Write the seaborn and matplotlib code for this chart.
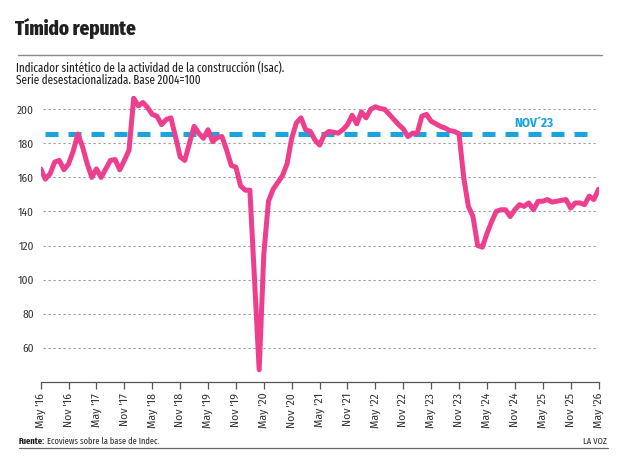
import matplotlib
matplotlib.use("Agg")
import matplotlib.pyplot as plt
import seaborn as sns
import pandas as pd
import numpy as np

# ---- data (monthly, May 2016 .. May 2026) ----
values = [
    165, 159, 162, 169, 170, 164.5, 168, 175.5, 185.5, 178,   # May16-Feb17
    168, 160, 165, 160, 165, 170, 170.5, 164.5, 170, 176,     # Mar17-Dec17
    206.5, 202, 204, 201, 197, 196, 191, 194, 195, 184,       # Jan18-Oct18
    172, 170, 180, 190, 186, 183, 188, 181, 183.5, 184,       # Nov18-Aug19
    176, 167, 166, 155, 152.5, 152.5, 100, 47, 115, 146,      # Sep19-Jun20
    153, 157, 161, 168, 183, 192, 195, 188, 187, 182,         # Jul20-Apr21
    179, 185, 187, 186.5, 186, 188, 191, 196.5, 191.5, 198.5, # May21-Feb22
    195, 200, 201.5, 200.5, 200, 197, 194, 191, 188.5, 184,   # Mar22-Dec22
    186, 186, 196, 197, 193, 191.5, 190, 189, 187.5, 187,     # Jan23-Oct23
    185.6, 160, 143, 137, 120, 119, 127, 134, 140, 141,       # Nov23-Aug24
    141, 137, 141, 144, 143, 145, 141, 146, 146, 147,         # Sep24-Jun25
    145.5, 146, 146.5, 147, 142, 145, 145, 144, 149, 147,     # Jul25-Apr26
    153,                                                      # May26
]
tick_labels = ["May '16", "Nov '16", "May '17", "Nov '17", "May '18", "Nov '18",
               "May '19", "Nov '19", "May '20", "Nov '20", "May '21", "Nov '21",
               "May '22", "Nov '22", "May '23", "Nov '23", "May '24", "Nov '24",
               "May '25", "Nov '25", "May '26"]
y_ticks = [60, 80, 100, 120, 140, 160, 180, 200]
ref_value = 185.6
ref_label = "NOV´23"

title = "Tímido repunte"
subtitle = "Indicador sintético de la actividad de la construcción (Isac).\nSerie desestacionalizada. Base 2004=100"
source_bold = "Fuente:"
source_rest = "Ecoviews sobre la base de Indec."
brand = "LA VOZ"

df = pd.DataFrame({"month": np.arange(len(values)), "value": values})

sns.set_theme(style="white")
COND = ["Fira Sans Condensed", "Roboto Condensed", "DejaVu Sans"]
XCOND = ["Fira Sans Extra Condensed", "Fira Sans Condensed", "DejaVu Sans"]
plt.rcParams["font.family"] = COND

PINK = "#EE3E8E"
BLUE = "#1AA3DD"
DARK = "#231F20"
GRAY = "#333333"

fig = plt.figure(figsize=(6.32, 4.68), dpi=100)
ax = fig.add_axes([40.7 / 632, 1 - 381.7 / 468, 557.8 / 632, 286 / 468])

ax.set_xlim(0, 120)
ax.set_ylim(40, 208)

# gridlines
for yv in y_ticks:
    ax.plot([0.5, 119.5], [yv, yv], color="#9a9a9a", lw=0.8, ls=(0, (2, 2.5)), zorder=1)

# reference dashed line
ax.plot([0.9, 118.2], [ref_value, ref_value], color=BLUE, lw=3.6,
        ls=(0, (2.6, 2.0)), zorder=2, solid_capstyle="butt", dash_capstyle="butt")
ax.text(106.1, ref_value + 3.8, ref_label, color=BLUE, fontsize=9.4,
        fontweight="bold", ha="center", va="baseline", family=COND)

sns.lineplot(data=df, x="month", y="value", ax=ax, color=PINK, lw=3.6,
             zorder=3, solid_joinstyle="round", solid_capstyle="round")

ax.set_xlabel("")
ax.set_ylabel("")
ax.set_xticks(np.arange(0, 121, 6))
ax.set_xticklabels(tick_labels, rotation=90, fontsize=8.4, color=GRAY, family=COND)
ax.set_yticks(y_ticks)
ax.set_yticklabels([str(v) for v in y_ticks], fontsize=8.2, color=GRAY, family=COND)
ax.tick_params(axis="x", length=5, width=0.9, color="#555555", pad=3, bottom=True)
ax.tick_params(axis="y", length=0, pad=5)
for s in ["top", "right", "left"]:
    ax.spines[s].set_visible(False)
ax.spines["bottom"].set_color("#555555")
ax.spines["bottom"].set_linewidth(0.9)

# header
fig.text(15 / 632, 1 - 35 / 468, title, fontsize=14.8, fontweight="heavy",
         color=DARK, va="baseline", ha="left", family=XCOND)
fig.add_artist(plt.Line2D([18 / 632, 602 / 632], [1 - 55 / 468, 1 - 55 / 468],
                          color="#8a8a8a", lw=1.0))
fig.text(16 / 632, 1 - 72 / 468, subtitle.split("\n")[0], fontsize=8.7, color=DARK,
         va="baseline", ha="left", family=XCOND)
fig.text(16 / 632, 1 - 84.5 / 468, subtitle.split("\n")[1], fontsize=8.7, color=DARK,
         va="baseline", ha="left", family=XCOND)

# footer
t = fig.text(19 / 632, 1 - 444.5 / 468, source_bold, fontsize=6.6, fontweight="bold",
             color=DARK, va="baseline", ha="left", family=XCOND)
fig.canvas.draw()
bb = t.get_window_extent()
fig.text((bb.x1 + 2) / 632, 1 - 444.5 / 468, source_rest, fontsize=6.6, color=GRAY,
         va="baseline", ha="left", family=XCOND)
fig.text(607 / 632, 1 - 444.5 / 468, brand, fontsize=6.6, color=GRAY,
         va="baseline", ha="right", family=XCOND)
fig.add_artist(plt.Line2D([19 / 632, 608 / 632], [1 - 447.5 / 468, 1 - 447.5 / 468],
                          color="#666666", lw=0.9))

fig.savefig("out.png", dpi=100)
